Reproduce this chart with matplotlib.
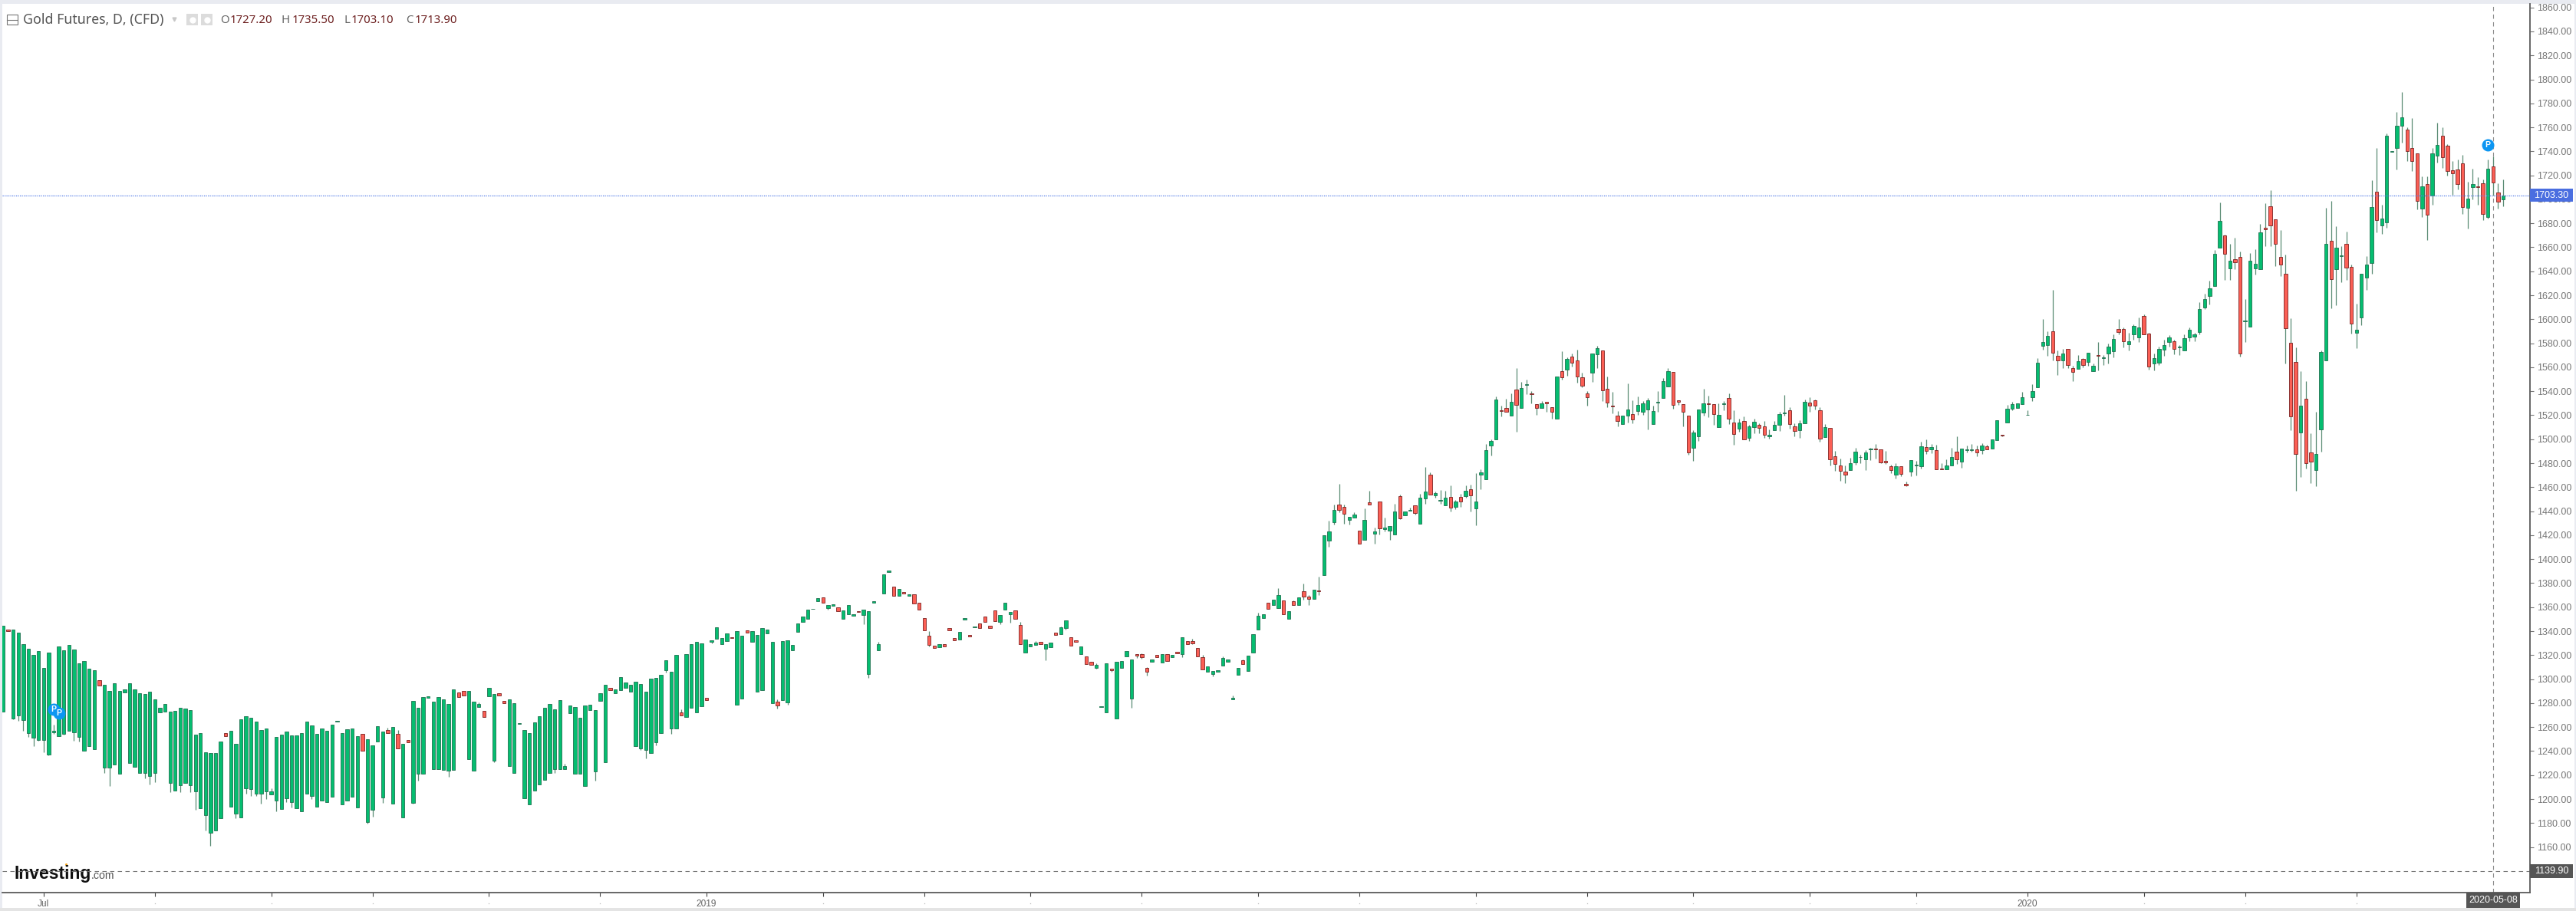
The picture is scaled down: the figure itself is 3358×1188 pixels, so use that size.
import matplotlib
matplotlib.use("Agg")
import matplotlib.pyplot as plt
from matplotlib.patches import Rectangle
import numpy as np

# daily candles, oldest first
opens = [
    1273,1341.2,1267.3,1269.9,1266,1254.7,1250.9,1249.2,1249.2,1237.3,
    1255.6,1252.6,1254.5,1257,1255.8,1252,1240.2,1243.9,1241.5,1298.8,
    1226.2,1226.2,1228.9,1221.3,1288.6,1230.2,1226.6,1221.9,1221.9,1219.4,
    1221.9,1272.4,1273,1213.2,1207,1211.5,1213.4,1211.3,1206.1,1192.3,
    1186.8,1171.8,1174,1183.8,1255.2,1193.8,1188,1184.6,1209.1,1208.5,
    1204.2,1204.2,1206.1,1204,1198.7,1191.7,1200.8,1197.2,1192.5,1189.5,
    1204.2,1202.3,1193.8,1198.7,1197.4,1201.7,1264.5,1195.3,1198.7,1201.7,
    1193.2,1254.3,1181,1191,1247.9,1201.5,1257.3,1195.9,1254.5,1184.6,
    1249.4,1197,1220.8,1221.3,1284.3,1224.7,1225.1,1224.5,1223.4,1224,
    1288.8,1290.3,1233.2,1223.4,1276.7,1273.3,1285.8,1232.1,1288.4,1282,
    1227.5,1221.9,1262.4,1200.8,1195.3,1207.2,1211.9,1215.7,1221.9,1224.7,
    1224.7,1225.1,1271.8,1221.3,1221.3,1210.6,1273.9,1223.2,1281.6,1230.4,
    1292.4,1288,1291,1292.9,1289.5,1244.3,1242.2,1240.7,
    1238.6,1247.1,1255,1307.6,1259,1259,1272,1268.2,1276.3,1272.4,
    1277.3,1284.2,1331.2,1333.8,1329.3,1331.4,1334.7,1278.6,1283.7,1340.8,
    1330.8,1289.3,1290.8,1338.3,1280.1,1281.2,1282.2,1280.8,1323.8,1339.3,
    1347.9,1350.4,1358.3,1365.1,1368.3,1359.4,1361,1359.8,1350.4,1354,
    1352.6,1356.4,1353.4,1304,1363.8,1323.8,1371.1,1389.2,1376.8,1369.6,
    1372.8,1369.4,1370.4,1363.4,1350.8,1335.9,1327.6,1326.8,1328.9,1342.3,
    1334,1333,1349.8,1336.8,1343.4,1346.6,1352.3,1344.5,1357,1347.6,
    1358.1,1354,1357,1345.3,1322.3,1327.4,1328.3,1331.2,1325.1,1326.8,
    1338.9,1337.6,1342.8,1335.1,1332.5,1321,1318.7,1314.2,1309.3,1276.7,
    1272.4,1308.4,1267.3,1309.5,1318.9,1283.7,1320.6,1320.6,1309.3,1314.6,
    1320,1314,1320.6,1318.2,1322.7,1321,1331.7,1331.9,1326.1,1318.5,
    1306.3,1304,1306.3,1311,1314.6,1283.1,1303.3,1315.5,1307,1322.3,
    1341.5,1351.1,1363.4,1361.7,1359,1365.3,1350,
    1364.7,1361.7,1373.2,1369,1366.6,1374.1,1386.4,1415.2,1430.8,1445.7,
    1443.5,1432.9,1434.8,1423.9,1416.1,1447.2,1421,1447.8,1425.2,1423.5,
    1420.3,1452.7,1436.3,1440.6,1445,1429.3,1450.4,1470.2,1453.1,1448.9,
    1444.8,1452.1,1443.3,1452.1,1452.5,1458.2,1442.1,1470.6,1466.6,1494.7,
    1499.6,1524.1,1525.8,1519.4,1541.2,1526.2,1545.2,1537.9,1529.4,1525.8,
    1530.9,1526.4,1517.3,1556.7,1558.2,1568.6,1565.9,1551.8,1538,1555.2,
    1570.8,1574.2,1542,1528.2,1519.4,1512.4,1519.9,1520.9,1523.5,1523,
    1525,1512.8,1530.7,1534.1,1543.9,1556,1532.4,1529.4,1519.4,1492.6,
    1502.6,1522.2,1530.1,1529.4,1510.3,1529,1534.3,1513.9,1509,1515.4,
    1501.1,1510.3,1511.8,1510.5,1502.6,1507.3,1511.8,1521.6,1524.3,1510.9,
    1507.5,1513.5,1530.7,1532.2,1524.3,1501.7,1509.6,1485.5,1477.9,1473,
    1474.5,1480.8,1484.9,1483.4,1491.3,1492.1,1491.3,1481.7,1477.2,1470.2,
    1477.2,1462.5,1473,1478.1,1477.2,1493.2,1491.7,1490.6,1475.3,1475,
    1477.9,1489.8,1481.5,1490.6,1491.1,1491.3,1490.6,1494,1491.9,1499,
    1504,1513.6,1525.6,1526.2,1529.2,1520,1534.7,1543.3,1577.6,1578.4,
    1589.7,1569.5,1565.9,1575,1559.5,1558.8,1567.1,1564.4,1556.5,1570.1,
    1567.3,1571.4,1573.5,1591.8,1591.8,1579.3,1587.2,1584.8,1602.9,1587.8,
    1563.1,1563.5,1574.8,1581.2,1581.4,1576.5,1574.2,1584.8,1585.7,1589.5,
    1609.7,1619.1,1627.6,1659.5,1670,1642.5,1649.8,1651.8,1598.3,1593.9,
    1642.5,1641.9,1676.4,1694.3,1683.5,1652.2,1638.1,1580.5,1564.4,1505.4,
    1533.6,1489.1,1474.2,1508.3,1566,1665.2,1641.9,1652.9,1663,1643.4,
    1589,1601.8,1634.6,1647.1,1706.4,1678.4,1680.6,1739.8,1742.5,1761.4,
    1757.9,1743.1,1738.3,1692.5,1712.7,1703.1,1736.1,1752.8,1744.4,1724,
    1724.8,1729.7,1693,1710.5,1711,1713.6,1685.4,1727.2,1705.9,1700,
]
closes = [
    1344.4,1340,1341,1338.9,1328.9,1325.5,1319.9,1323.3,1309.3,1321.8,
    1257,1327,1324,1328.2,1324.8,1312.9,1314.8,1308.4,1307.1,1294.4,
    1295.2,1290.3,1296.7,1290.3,1291.2,1296.7,1291.2,1288.2,1287.3,1289.7,
    1283.3,1275.8,1279,1272.6,1273.3,1276.2,1275.6,1274.1,1253.7,1255.2,
    1239,1238.1,1238.1,1248.1,1252.6,1256.6,1246,1266.2,1269.2,1267.7,
    1264.3,1257.3,1258.6,1206.1,1251.5,1253.7,1256.4,1253,1253,1255.2,
    1264.3,1261.3,1254.3,1258.6,1256.6,1262.2,1265,1255.2,1257.9,1258.6,
    1252.2,1240.2,1249.6,1244.5,1260.7,1256.4,1254.7,1259.8,1242.2,1246,
    1247,1282,1276.2,1284.8,1285.4,1281.1,1284.8,1283.3,1279,1291.6,
    1285,1286.5,1290.3,1281.1,1279,1268.1,1292.4,1287.3,1286.5,1280.1,
    1283.3,1279.7,1263,1257.3,1255.2,1263.7,1269.2,1276.2,1279,1274.8,
    1282.6,1227.2,1277.7,1276.9,1267.7,1277.7,1278.4,1274.1,1288.2,1295.2,
    1290.7,1291.6,1301.4,1297.3,1295.2,1298,1295.8,1289.7,
    1300.1,1301,1303.8,1315.7,1305.9,1320,1269.4,1320.6,1328.9,1331.2,
    1329.5,1282.2,1332.5,1343,1334,1338.3,1334,1340.2,1335.9,1338.5,
    1340.2,1336.6,1342.3,1341,1331.2,1278,1331.9,1332.5,1328.5,1346.6,
    1352.3,1357.7,1358.7,1367.7,1363.8,1361.5,1362.1,1356.8,1357,1361.5,
    1354.3,1356,1357.7,1356.4,1364.9,1328.9,1387.5,1390.3,1369.4,1375.3,
    1371.5,1370.7,1363.2,1357.7,1340.6,1328.7,1325.7,1328.9,1327.4,1340.6,
    1332.1,1339.6,1350.8,1335.7,1344,1342.8,1347.6,1342.8,1348.5,1353.6,
    1363.4,1355.7,1350.4,1328.9,1333.2,1328.9,1330.4,1329.3,1328.9,1330.4,
    1336.6,1343.2,1348.7,1328,1330.8,1327,1312.5,1311.9,1311.6,1277.1,
    1312.9,1307.6,1314.2,1314.8,1323.4,1316.3,1319.7,1318,1306.3,1316.3,
    1318.2,1320.6,1315.3,1320,1321.7,1334.7,1328.9,1330,1318.9,1308.2,
    1310.8,1306.5,1307.2,1317.6,1316.3,1284.4,1309.3,1312.7,1319.3,1337.4,
    1353,1354.3,1358.3,1366.4,1369.8,1354,1356.4,
    1361.7,1368.3,1368.8,1366.6,1374.7,1373,1419.7,1423.1,1440.8,1441.2,
    1437.6,1435,1437.1,1413.1,1432.5,1445.5,1423.1,1425.9,1426.1,1427.3,
    1439.5,1434.2,1439.9,1441,1438.4,1451.2,1456.1,1454,1454.8,1449.3,
    1451.2,1442.7,1447.8,1448.2,1456.8,1453.3,1447.8,1472.5,1490.6,1498.3,
    1532.8,1523.5,1522.8,1531.4,1528.4,1542.6,1545.6,1537.3,1525.8,1530.1,
    1529.9,1522.8,1552,1551.8,1566.7,1563.5,1552.4,1544.8,1534.8,1571.6,
    1575.9,1540.5,1530.5,1527.1,1515.2,1519.4,1524.5,1516.4,1528.8,1529.9,
    1532.2,1523.3,1531.4,1548.4,1556.7,1528.4,1531.1,1523,1489.2,1505.4,
    1524.5,1530.1,1529.2,1520.7,1520.3,1529.6,1517.3,1504.5,1513.7,1499.6,
    1510.5,1514.5,1509.6,1503.9,1503.4,1511.8,1520.9,1522.2,1512.4,1506.6,
    1513,1530.9,1527.7,1527.7,1500.5,1510.3,1483,1479.1,1473.6,1470.2,
    1480.2,1489.8,1485.3,1488.7,1491.9,1491.3,1480.6,1480.8,1474.4,1477.2,
    1470.8,1461.7,1482.8,1478.7,1494.3,1490,1493.4,1475,1474.9,1477.9,
    1484.9,1483,1491.9,1491.3,1491.5,1489.2,1494.9,1491.3,1499.8,1515.6,
    1503.2,1525.2,1529.4,1530.1,1535,1520.5,1539.9,1563.9,1580.8,1586.3,
    1572,1565.6,1571.6,1562,1555.8,1565.2,1561.6,1572.2,1561,1569.3,
    1568,1577.1,1583.3,1589.1,1581.4,1581.4,1594.6,1593.3,1587.6,1560.9,
    1567.8,1575.6,1578.6,1584.8,1575.4,1577.1,1584,1591.2,1587.2,1608.7,
    1617,1625.7,1654.5,1681.9,1654.6,1648.9,1647.6,1571.4,1599.2,1648.9,
    1646.5,1672.2,1675.3,1678.4,1662.8,1645.4,1592.6,1518.8,1487.8,1527.9,
    1480.1,1481.4,1487.8,1572.5,1663,1633.7,1659.9,1653.5,1643.2,1596.1,
    1591.2,1637.7,1645.4,1693.8,1683,1684.1,1752.8,1740.5,1761.4,1768.4,
    1740,1731.7,1698.7,1710.8,1687.4,1738.3,1745.3,1735.2,1723.3,1722,
    1712.7,1693.8,1700.9,1712.7,1709.9,1687.9,1725.5,1713.9,1698,1703.3,
]
highs = [
    1344.4,1341.2,1341,1338.9,1328.9,1325.5,1319.9,1323.3,1309.3,1321.8,
    1262,1327,1324,1328.2,1324.8,1312.9,1314.8,1308.4,1307.1,1298.8,
    1295.2,1290.3,1296.7,1290.3,1291.2,1296.7,1291.2,1288.2,1287.3,1289.7,
    1283.3,1275.8,1279,1272.6,1273.3,1276.2,1275.6,1274.1,1253.7,1255.2,
    1239,1238.1,1238.1,1248.1,1255.2,1256.6,1246,1266.2,1269.2,1267.7,
    1264.3,1257.3,1258.6,1208.7,1251.5,1253.7,1256.4,1253,1253,1255.2,
    1264.3,1261.3,1254.3,1258.6,1256.6,1262.2,1265,1255.2,1257.9,1258.6,
    1252.2,1254.3,1249.6,1244.5,1260.7,1256.4,1259.4,1259.8,1257.3,1246,
    1249.4,1282,1276.2,1284.8,1285.4,1281.1,1284.8,1283.3,1279,1291.6,
    1288.8,1290.3,1290.3,1281.1,1280.7,1273.3,1292.4,1287.3,1288.4,1282,
    1283.3,1279.7,1263,1257.3,1255.2,1263.7,1269.2,1276.2,1279,1274.8,
    1282.6,1229.4,1277.7,1276.9,1267.7,1277.7,1278.4,1274.1,1288.2,1295.2,
    1292.4,1291.6,1301.4,1297.3,1295.2,1298,1295.8,1289.7,
    1300.1,1301,1303.8,1315.7,1305.9,1320,1274.6,1320.6,1328.9,1331.2,
    1329.5,1284.2,1332.5,1343,1334,1338.3,1334.7,1340.2,1335.9,1340.8,
    1340.2,1336.6,1342.3,1341,1331.2,1282.9,1331.9,1332.5,1328.5,1346.6,
    1352.3,1357.7,1358.7,1367.7,1368.3,1361.5,1362.1,1359.8,1357,1361.5,
    1354.3,1356.4,1357.7,1356.4,1364.9,1330.8,1387.5,1390.3,1376.8,1375.3,
    1372.8,1370.7,1370.4,1363.4,1350.8,1339.8,1327.6,1328.9,1328.9,1342.3,
    1334,1339.6,1350.8,1336.8,1344,1346.6,1352.3,1344.5,1357,1353.6,
    1363.4,1355.7,1357,1347.4,1333.2,1328.9,1331.7,1331.2,1328.9,1330.4,
    1338.9,1344,1348.7,1335.1,1332.5,1327,1318.7,1314.2,1313.1,1277.1,
    1312.9,1308.4,1314.2,1314.8,1323.4,1316.3,1320.6,1321.4,1310,1316.3,
    1320,1320.6,1320.6,1320,1322.7,1334.7,1331.7,1333.4,1326.1,1320.2,
    1310.8,1306.5,1307.2,1318.9,1316.3,1286.3,1309.3,1316.3,1319.3,1337.4,
    1355.3,1354.3,1363.4,1366.4,1375.6,1365.3,1356.4,
    1365.8,1368.3,1379.8,1370,1374.7,1385.4,1419.7,1431.8,1445.2,1462.7,
    1445.2,1435,1439,1423.9,1442.5,1457.2,1426.1,1447.8,1434.6,1427.3,
    1445.9,1453.6,1439.9,1443.1,1445,1454.4,1476.8,1472.5,1456.3,1457.4,
    1457,1461.2,1449.3,1454.2,1461.2,1462,1471.9,1474.6,1495.7,1500,
    1535.8,1527.7,1533.7,1538,1559.3,1547.8,1549.5,1540,1529.4,1532,
    1530.9,1526.4,1552,1573.1,1568.2,1571.2,1574.6,1555.6,1540.1,1571.6,
    1578,1574.2,1552,1539.4,1523.5,1519.4,1546.5,1532.4,1535.4,1532,
    1534.3,1527.7,1540.1,1550.7,1559.3,1556,1532.4,1529.4,1519.4,1507.7,
    1524.5,1541.8,1536,1529.4,1529.9,1532,1538,1524.1,1517.1,1519,
    1512,1517.1,1513.5,1515,1508.1,1515,1523,1536.9,1526.9,1513.5,
    1515.6,1533,1534.8,1533,1526.9,1512.8,1509.6,1490,1483.6,1477.9,
    1484.3,1492.6,1487.3,1491.1,1492.6,1495.7,1491.3,1490,1478.9,1479.8,
    1477.2,1464.4,1482.8,1481.7,1497.9,1500,1495.7,1495.3,1480,1483.2,
    1493,1502.4,1491.9,1494.7,1496,1494.7,1496.4,1495.3,1499.8,1515.6,
    1504,1528.3,1531.1,1530.1,1539.4,1524.1,1545.8,1567.3,1600.2,1590.1,
    1624.7,1573.7,1575.2,1575,1561,1570.3,1567.7,1572.2,1562.9,1581,
    1570.3,1579.5,1587.4,1600,1593.3,1588.6,1595.9,1601.4,1604,1589,
    1571.6,1577.4,1583.1,1586.5,1583.1,1578.8,1587.4,1593.3,1588.4,1614.2,
    1621.5,1632.3,1657.7,1697.1,1670.5,1662.8,1668.3,1656.2,1616.8,1655.1,
    1658.4,1679.3,1696.5,1707.5,1683.5,1674.4,1654,1600.7,1576.5,1556.7,
    1548.5,1505,1522.6,1574.1,1693.2,1698.6,1677.5,1661.2,1673.3,1645.4,
    1612.8,1637.7,1652.4,1715.8,1742.7,1695.3,1754.8,1740.5,1772.8,1789.3,
    1760.3,1768,1738.3,1718.9,1718.9,1742.7,1764.2,1760.3,1746,1732.1,
    1733.4,1737,1714.5,1725.7,1718.5,1716.3,1733.4,1735.5,1713.6,1716.7,
]
lows = [
    1273,1340,1266.6,1265,1256.6,1252,1244.3,1248.5,1239.2,1236.4,
    1254.5,1252.6,1253.7,1257,1248.8,1247.7,1240.2,1243.9,1241.5,1294.4,
    1222,1210.8,1228.9,1221.3,1288.6,1230.2,1226.6,1221.9,1217.2,1212.3,
    1214,1272.4,1273,1205.9,1207,1205.5,1213.4,1205.5,1191.2,1192.3,
    1174,1161.2,1174,1183.8,1252.6,1193.8,1184.2,1184.6,1204.4,1202.3,
    1202.3,1195.9,1200.2,1204,1189.5,1191.7,1197.6,1192.7,1192.5,1189.5,
    1204.2,1200.2,1193.8,1198.7,1197.4,1201.7,1264.5,1195.3,1198.7,1201.7,
    1193.2,1240.2,1179.5,1185.3,1247.9,1196.6,1254.7,1195.9,1242.2,1184.6,
    1247,1195.9,1215.1,1221.3,1284.3,1224.7,1225.1,1224.5,1218.7,1224,
    1285,1286.5,1233.2,1223.4,1276.7,1268.1,1285.8,1230.6,1286.5,1280.1,
    1227.5,1221.9,1262.4,1200.8,1195.3,1207.2,1211.9,1215.7,1221.9,1221.5,
    1224.7,1225.1,1271.8,1221.3,1221.3,1210.6,1273.9,1215.5,1281.6,1230.4,
    1290.7,1288,1291,1292.9,1289.5,1244.3,1240.9,1233.7,
    1238.6,1245,1255,1305.3,1254.5,1259,1269.4,1268.2,1276.3,1272.4,
    1277.3,1282.2,1330,1333.8,1329.3,1331.4,1334,1278.6,1283.7,1338.5,
    1330.8,1289.3,1290.8,1338.3,1280.1,1275.6,1282.2,1278.6,1323.8,1339.3,
    1347.9,1350.4,1358.3,1365.1,1363.8,1357.9,1361,1356.8,1350.4,1354,
    1352.6,1356,1346,1301,1363.8,1323.8,1371.1,1389.2,1369.4,1369.6,
    1371.5,1369.4,1363.2,1357.7,1340.6,1327,1325.7,1326.8,1327.4,1340.6,
    1332.1,1333,1349.8,1335.7,1343.4,1342.8,1347.6,1342.8,1348.5,1346,
    1358.1,1347.2,1350.4,1328.9,1322.3,1327.4,1328.3,1329.3,1315.9,1326.8,
    1336.6,1337.6,1341.5,1328,1330.8,1321,1312.5,1311.9,1308.7,1276.7,
    1272.4,1306.3,1267.3,1309.5,1318.9,1276.3,1317.4,1317.2,1302.9,1314.6,
    1318.2,1314,1315.3,1318.2,1321.7,1318.5,1328.9,1329.1,1318.9,1308.2,
    1306.3,1302.5,1306.3,1311,1314.6,1283.1,1303.3,1312.7,1307,1322.3,
    1341.5,1351.1,1358.3,1361.7,1359,1354,1350,
    1361.7,1361.7,1366.4,1361.5,1366.6,1370,1386.4,1410.1,1429.1,1438.9,
    1429.7,1428.8,1434.8,1413.1,1416.1,1445.5,1413.1,1420.7,1423.3,1416.3,
    1420.3,1433.5,1436.3,1440.6,1437.5,1429.3,1445.9,1454,1451.4,1445.9,
    1444.8,1439.9,1441.8,1443.8,1451,1439.9,1428.4,1458,1466.6,1486.2,
    1499.6,1519.2,1522.8,1519.4,1506.4,1526.2,1537.3,1529.9,1520.5,1525.8,
    1522.6,1517.1,1517.3,1549.9,1552.9,1560.5,1547.3,1543.1,1528.2,1548,
    1559.3,1532,1526.9,1521.8,1510.7,1512.4,1514.1,1513.2,1520.3,1520.5,
    1508,1512.8,1522.6,1534.1,1543.9,1525.6,1528.6,1510.7,1487.3,1481.7,
    1498.8,1519.6,1518.4,1512,1510.3,1524.1,1512.8,1495.1,1506.4,1499.6,
    1498.5,1504.9,1504.7,1501.3,1500.5,1507.3,1506.9,1519.6,1509,1502.2,
    1500.9,1513.5,1522.6,1524.8,1498.1,1501.7,1478.3,1473.4,1465.5,1463.4,
    1474.5,1478.7,1480,1474,1482.6,1484,1480,1479.4,1471.5,1467.2,
    1469.3,1460.8,1469.3,1469.8,1475.7,1487.4,1488.1,1475,1474.9,1475,
    1477.9,1479.4,1476.2,1488.9,1489.8,1486,1487.7,1491.3,1491.9,1499,
    1502.1,1513.6,1524.1,1526.2,1529.2,1520,1531.8,1543.3,1574.6,1569.7,
    1565.6,1553.7,1559.3,1559.3,1548.6,1558.8,1560,1561.4,1556.5,1557.5,
    1562,1563.1,1568.4,1587.4,1576.7,1574.2,1583.1,1581.2,1587.6,1558,
    1557.1,1562,1569.7,1577.4,1570.7,1570.3,1574.2,1581.6,1581.6,1587.4,
    1608.5,1612.3,1627.6,1659.5,1632.6,1632.6,1641.9,1568.8,1580.9,1593.9,
    1637,1641.9,1661.2,1661.2,1644.5,1635.9,1563.3,1507.2,1457,1468.6,
    1475.7,1463.1,1461,1489.6,1566,1609.3,1611.9,1630.9,1632.6,1588.2,
    1576.1,1595.2,1624.7,1638.1,1672.7,1671.1,1676.6,1739.8,1724.6,1747.1,
    1731.7,1723.3,1691.6,1685,1666.1,1695.3,1730.6,1726.2,1720,1703.9,
    1708.1,1687.6,1675.8,1700,1695.4,1682.8,1683.7,1703.1,1692,1694.3,
]

price_ticks = list(range(1160, 1861, 20))
month_ticks = [8, 30, 53, 73, 96, 118, 139, 162, 182, 203, 225, 248, 268, 291, 313, 334, 357, 378, 400, 423, 443, 465]
month_labels = {8: "Jul", 139: "2019", 400: "2020"}
last_price = 1703.30
low_price = 1139.90
cross_index = 492
cross_date = "2020-05-08"
p_marks_x = [10, 11, 491]
p_marks_y = [1274.8, 1271.6, 1745.3]

W, H = 3358, 1188
plt.rcParams["font.family"] = ["Liberation Sans", "DejaVu Sans"]
fig = plt.figure(figsize=(W / 100, H / 100), dpi=100, facecolor="#e9ebf1")

# pixel canvas for the page background, legend and logo
bg = fig.add_axes([0, 0, 1, 1], zorder=0)
bg.set_xlim(0, W)
bg.set_ylim(H, 0)
bg.axis("off")
bg.add_patch(Rectangle((3, 4.5), 3353, 1179.5, fc="white", ec="none"))
bg.add_patch(Rectangle((0, 1184), W, 4, fc="#e4e4e4", ec="none"))

# main chart pane, price and index scale fitted to the screenshot
left, right, top, bottom = 3, 3298, 4.5, 1163.7
ax = fig.add_axes([left / W, 1 - bottom / H, (right - left) / W, (bottom - top) / H], zorder=1)
ax.patch.set_alpha(0)
ax.set_xlim(-0.15, 499.3)
ax.set_ylim(1122.2, 1863.3)
for s in ["top", "left"]:
    ax.spines[s].set_visible(False)
for s in ["right", "bottom"]:
    ax.spines[s].set_color("#5a5a5a")
    ax.spines[s].set_linewidth(1.3)

o = np.array(opens)
c = np.array(closes)
xs = np.arange(len(o))
up = c >= o

ax.vlines(xs, lows, highs, color="#5a8c74", lw=0.9, zorder=2)
ax.bar(xs[up], (c - o)[up], bottom=o[up], width=0.66, color="#05bd70", edgecolor="#1f7050", lw=0.6, zorder=3)
ax.bar(xs[~up], (o - c)[~up], bottom=c[~up], width=0.66, color="#fb5f55", edgecolor="#7a2020", lw=0.6, zorder=3)

# guide lines
ax.axhline(last_price, color="#5c80e8", lw=0.9, ls=(0, (1, 1)), zorder=4)
ax.axhline(low_price, color="#777777", lw=0.8, ls=(0, (5, 4)), zorder=1)
ax.axvline(cross_index, color="#8a8a8a", lw=0.8, ls=(0, (5, 4)), zorder=1)

# axes
ax.yaxis.tick_right()
ax.set_yticks(price_ticks)
ax.set_yticklabels([f"{v:.2f}" for v in price_ticks], fontsize=9, color="#777777")
ax.tick_params(axis="y", length=3.5, width=0.8, color="#777777", pad=3)
ax.set_xticks(month_ticks)
ax.set_xticklabels([month_labels.get(t, "") for t in month_ticks], fontsize=8.6, color="#666666")
ax.tick_params(axis="x", length=3.5, width=0.8, color="#444444", pad=3)

# price and date flags
ytr = ax.get_yaxis_transform()
xtr = ax.get_xaxis_transform()
box_w = 56 / (right - left)
ax.plot(month_ticks, [-14 / 1159.2] * len(month_ticks), transform=xtr, ls="", marker="s", ms=0.9, mew=0,
        color="#bbbbbb", clip_on=False)
ax.add_patch(Rectangle((1, last_price - 5.5), box_w, 11, transform=ytr, fc="#4a6ee0", ec="none", clip_on=False, zorder=5))
ax.text(1 + box_w / 2, last_price, f"{last_price:.2f}", transform=ytr, color="white", fontsize=9,
        ha="center", va="center", zorder=6, clip_on=False)
ax.add_patch(Rectangle((1, low_price - 5.5), box_w, 11, transform=ytr, fc="#555555", ec="none", clip_on=False, zorder=5))
ax.text(1 + box_w / 2, low_price, f"{low_price:.2f}", transform=ytr, color="white", fontsize=9,
        ha="center", va="center", zorder=6, clip_on=False)
ax.add_patch(Rectangle((cross_index - 5.3, -20.5 / 1159.2), 10.6, 20.5 / 1159.2, transform=xtr, fc="#555555", ec="none",
                       clip_on=False, zorder=5))
ax.text(cross_index, -10 / 1159.2, cross_date, transform=xtr, color="white", fontsize=9, ha="center", va="center",
        zorder=6, clip_on=False)

# P event markers
for px, py in zip(p_marks_x, p_marks_y):
    ax.plot(px, py, "o", ms=11.5, color="#0d96f2", mew=0, zorder=7)
    ax.text(px, py, "P", color="white", fontsize=7.5, fontweight="bold", ha="center", va="center", zorder=8)

# legend line
bg.add_patch(Rectangle((8.5, 19), 14, 13, fc="white", ec="#777777", lw=0.8))
bg.plot([8.5, 22.5], [25.5, 25.5], color="#777777", lw=0.8)
bg.text(30, 26, "Gold Futures, D, (CFD)", family="Noto Sans", fontsize=12.8, color="#555555", va="center")
bg.add_patch(Rectangle((243, 18), 15, 15, fc="#dcdcdc", ec="none"))
bg.add_patch(Rectangle((262, 18), 15, 15, fc="#dcdcdc", ec="none"))
bg.plot([250.5, 269.5], [25.5, 25.5], "o", ls="", ms=5, mfc="white", mec="white")
bg.plot(227, 25, "v", ms=3.5, color="#c8c8c8")
for lab, lx, val, vx in [("O", 287, "1727.20", 300), ("H", 367, "1735.50", 381),
                         ("L", 448, "1703.10", 458), ("C", 529, "1713.90", 541)]:
    bg.text(lx, 26, lab, family="Noto Sans", fontsize=10.8, color="#666666", va="center")
    bg.text(vx, 26, val, family="Noto Sans", fontsize=10.8, color="#6d2020", va="center")

# logo
bg.text(18, 1146, "Investing", fontsize=16.5, fontweight="bold", color="#111111", va="baseline", zorder=9)
bg.text(119, 1146, ".com", fontsize=10.2, color="#555555", va="baseline", zorder=9)
bg.plot(85.5, 1127, "o", ms=2.2, color="#f5a623", mew=0)

fig.savefig("out.png", dpi=100, facecolor=fig.get_facecolor())
